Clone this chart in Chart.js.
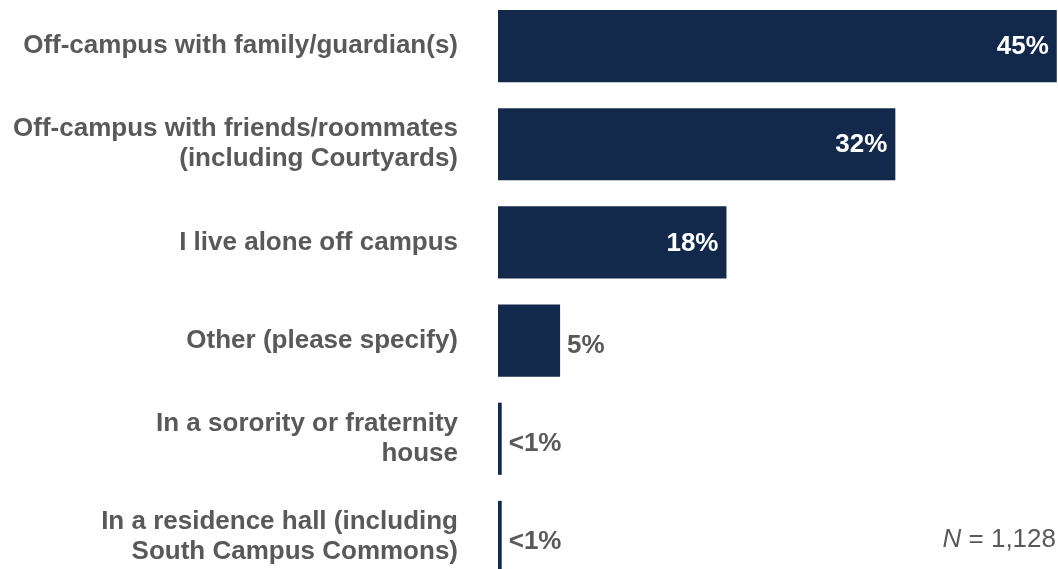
<!DOCTYPE html>
<html>
<head>
<meta charset="utf-8">
<script src="https://cdn.jsdelivr.net/npm/chart.js@4"></script>
<style>
  html, body { margin: 0; padding: 0; background: #fff; overflow: hidden; }
  .wrap { position: absolute; left: 0; top: -3px; width: 1058px; height: 589px; }
</style>
</head>
<body>
<div class="wrap"><canvas id="housing"></canvas></div>
<script>
// DATA
const categories = [
  "Off-campus with family/guardian(s)",
  ["Off-campus with friends/roommates", "(including Courtyards)"],
  "I live alone off campus",
  "Other (please specify)",
  ["In a sorority or fraternity", "house"],
  ["In a residence hall (including", "South Campus Commons)"],
];
const percentValues = [45, 32, 18.4, 5, 0.3, 0.3];
const valueLabels = ["45%", "32%", "18%", "5%", "<1%", "<1%"];
const sampleNote = "1,128";

const navy = "#13294B";
const grey = "#595959";
const fontFam = "'Liberation Sans', Arial, sans-serif";

// value labels on / beside each bar + the N note
const barLabels = {
  id: "barLabels",
  afterDatasetsDraw(chart) {
    const ctx = chart.ctx;
    const meta = chart.getDatasetMeta(0);
    ctx.save();
    ctx.font = "bold 26px " + fontFam;
    ctx.textBaseline = "middle";
    meta.data.forEach((bar, i) => {
      const inside = percentValues[i] >= 15;
      if (inside) {
        ctx.fillStyle = "#ffffff";
        ctx.textAlign = "right";
        ctx.fillText(valueLabels[i], bar.x - 8, bar.y + 1);
      } else {
        ctx.fillStyle = grey;
        ctx.textAlign = "left";
        ctx.fillText(valueLabels[i], bar.x + 7, bar.y + 5);
      }
    });
    const y = chart.scales.y.getPixelForValue(categories.length - 1) + 3;
    const right = chart.chartArea.right - 2;
    ctx.font = "26px " + fontFam;
    ctx.textAlign = "left";
    const rest = " = " + sampleNote;
    const wRest = ctx.measureText(rest).width;
    ctx.font = "italic 26px " + fontFam;
    const wN = ctx.measureText("N").width;
    const x0 = right - wRest - wN;
    ctx.fillStyle = grey;
    ctx.fillText("N", x0, y);
    ctx.font = "26px " + fontFam;
    ctx.fillText(rest, x0 + wN, y);
    ctx.restore();
  },
};

new Chart(document.getElementById("housing"), {
  type: "bar",
  data: {
    labels: categories,
    datasets: [
      {
        data: percentValues,
        backgroundColor: navy,
        borderWidth: 0,
        categoryPercentage: 1,
        barPercentage: 0.735,
      },
    ],
  },
  options: {
    indexAxis: "y",
    responsive: true,
    maintainAspectRatio: false,
    animation: false,
    layout: { padding: 0 },
    plugins: {
      legend: { display: false },
      tooltip: { enabled: false },
    },
    scales: {
      x: { display: false, min: 0, max: 45.1 },
      y: {
        grid: { display: false, drawTicks: false },
        border: { display: false },
        afterFit(scale) {
          scale.width = 498;
          scale.paddingTop = 0;
          scale.paddingBottom = 0;
        },
        ticks: {
          padding: 40,
          color: grey,
          font: { family: fontFam, size: 26, weight: "bold", lineHeight: 1.15 },
        },
      },
    },
  },
  plugins: [barLabels],
});
</script>
</body>
</html>
